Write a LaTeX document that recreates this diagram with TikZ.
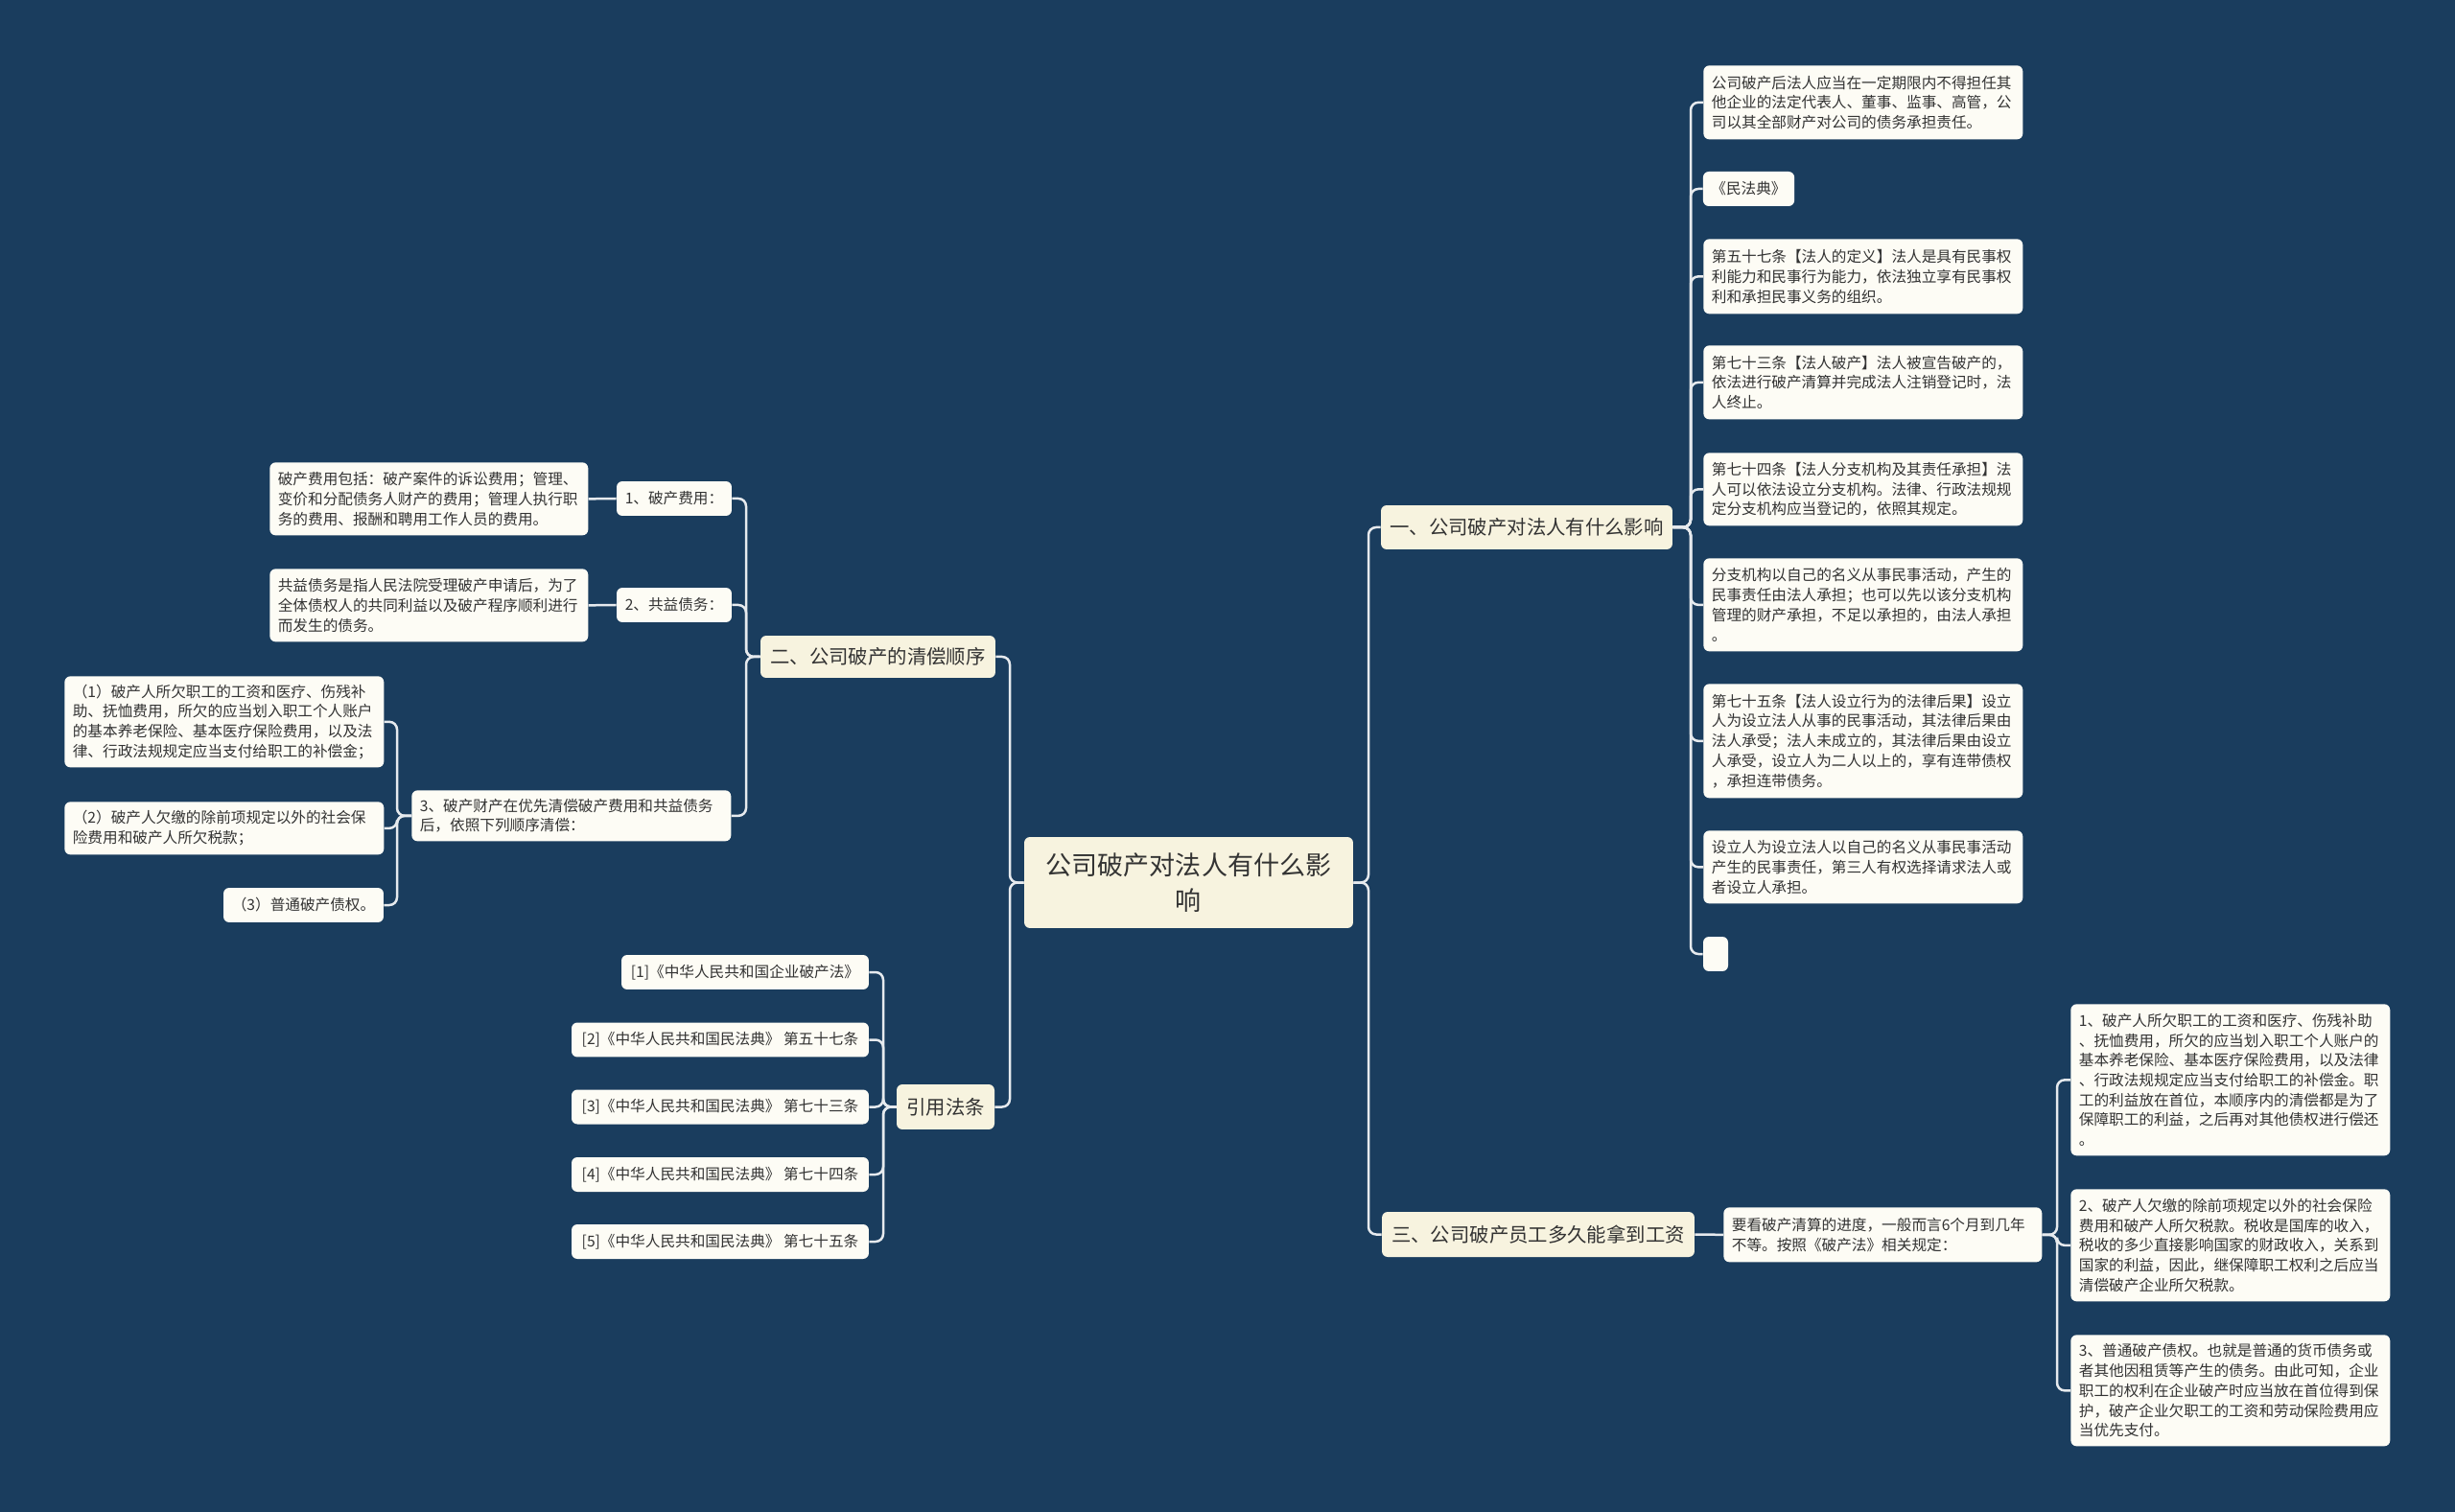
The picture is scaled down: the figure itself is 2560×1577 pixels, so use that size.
\documentclass[tikz,border=0pt]{standalone}
\usepackage{fontspec}
\newfontfamily\cjk{Noto Sans CJK SC}
\definecolor{bgc}{HTML}{1A3D5E}
\definecolor{leafc}{HTML}{FDFCF5}
\definecolor{mainc}{HTML}{F7F3DF}
\definecolor{txt}{HTML}{333333}
\definecolor{linec}{HTML}{E6EAEE}
\tikzset{
  leaf/.style={fill=leafc, rounded corners=0.12cm, inner xsep=0.17cm, inner ysep=0.06cm,
    font=\cjk\fontsize{8.9}{11.8}\selectfont, text=txt, align=left},
  multi/.style={leaf, anchor=north west, text width=6.32cm},
  single/.style={leaf, anchor=center, align=center},
  branch/.style={fill=mainc, rounded corners=0.12cm, inner sep=0.1cm, anchor=center, align=center,
    font=\cjk\fontsize{11.6}{14}\selectfont, text=txt},
  conn/.style={draw=linec, line width=0.05cm, rounded corners=0.16cm},
}
\begin{document}
\begin{tikzpicture}[x=0.02cm,y=-0.02cm]
\fill[bgc] (0,0) rectangle (2560,1577);
\useasboundingbox (0,0) rectangle (2560,1577);

% bracket x positions
\coordinate (xcR) at (1427,0);
\coordinate (xcL) at (1053,0);
\coordinate (xb1) at (1763,0);
\coordinate (xb2) at (778,0);
\coordinate (xl3) at (414,0);
\coordinate (xb4) at (921,0);
\coordinate (xk) at (2145,0);

% center
\node[branch, minimum width=6.86cm, minimum height=1.9cm, font=\cjk\fontsize{15.4}{21}\selectfont] (C) at (1239.5,920.5) {公司破产对法人有什么影\\响};

% main branches
\node[branch, minimum width=6.08cm, minimum height=0.92cm] (B1n) at (1592,550) {一、公司破产对法人有什么影响};
\node[branch, minimum width=4.9cm, minimum height=0.88cm] (B2n) at (915.5,685) {二、公司破产的清偿顺序};
\node[branch, minimum width=6.52cm, minimum height=0.94cm] (B3n) at (1604,1287.5) {三、公司破产员工多久能拿到工资};
\node[branch, minimum width=2.04cm, minimum height=0.94cm] (B4n) at (986,1154.5) {引用法条};

% right column leaves
\node[multi, minimum height=1.54cm] (R1) at (1776,68) {公司破产后法人应当在一定期限内不得担任其\\他企业的法定代表人、董事、监事、高管，公\\司以其全部财产对公司的债务承担责任。};
\node[single, minimum width=1.9cm, minimum height=0.72cm] (R2) at (1823.5,197) {《民法典》};
\node[multi, minimum height=1.56cm] (R3) at (1776,249) {第五十七条【法人的定义】法人是具有民事权\\利能力和民事行为能力，依法独立享有民事权\\利和承担民事义务的组织。};
\node[multi, minimum height=1.54cm] (R4) at (1776,360) {第七十三条【法人破产】法人被宣告破产的，\\依法进行破产清算并完成法人注销登记时，法\\人终止。};
\node[multi, minimum height=1.52cm] (R5) at (1776,472) {第七十四条【法人分支机构及其责任承担】法\\人可以依法设立分支机构。法律、行政法规规\\定分支机构应当登记的，依照其规定。};
\node[multi, minimum height=1.94cm] (R6) at (1776,582) {分支机构以自己的名义从事民事活动，产生的\\民事责任由法人承担；也可以先以该分支机构\\管理的财产承担，不足以承担的，由法人承担\\。};
\node[multi, minimum height=2.38cm] (R7) at (1776,713) {第七十五条【法人设立行为的法律后果】设立\\人为设立法人从事的民事活动，其法律后果由\\法人承受；法人未成立的，其法律后果由设立\\人承受，设立人为二人以上的，享有连带债权\\，承担连带债务。};
\node[multi, minimum height=1.52cm] (R8) at (1776,866) {设立人为设立法人以自己的名义从事民事活动\\产生的民事责任，第三人有权选择请求法人或\\者设立人承担。};
\node[single, minimum width=0.52cm, minimum height=0.72cm, inner sep=0pt] (R9) at (1789,995) {};

% branch 3
\node[multi, text width=6.3cm, minimum height=1.14cm] (K) at (1797,1259) {要看破产清算的进度，一般而言6个月到几年\\不等。按照《破产法》相关规定：};
\node[multi, minimum height=3.16cm] (K1) at (2159,1047) {1、破产人所欠职工的工资和医疗、伤残补助\\、抚恤费用，所欠的应当划入职工个人账户的\\基本养老保险、基本医疗保险费用，以及法律\\、行政法规规定应当支付给职工的补偿金。职\\工的利益放在首位，本顺序内的清偿都是为了\\保障职工的利益，之后再对其他债权进行偿还\\。};
\node[multi, minimum height=2.34cm] (K2) at (2159,1240) {2、破产人欠缴的除前项规定以外的社会保险\\费用和破产人所欠税款。税收是国库的收入，\\税收的多少直接影响国家的财政收入，关系到\\国家的利益，因此，继保障职工权利之后应当\\清偿破产企业所欠税款。};
\node[multi, minimum height=2.32cm] (K3) at (2159,1392) {3、普通破产债权。也就是普通的货币债务或\\者其他因租赁等产生的债务。由此可知，企业\\职工的权利在企业破产时应当放在首位得到保\\护，破产企业欠职工的工资和劳动保险费用应\\当优先支付。};

% left: branch 2
\node[single, minimum width=2.4cm, minimum height=0.72cm] (L1) at (703,520) {1、破产费用：};
\node[single, minimum width=2.4cm, minimum height=0.72cm] (L2) at (703,631) {2、共益债务：};
\node[multi, text width=6.3cm, minimum height=1.52cm] (L1c) at (281,482) {破产费用包括：破产案件的诉讼费用；管理、\\变价和分配债务人财产的费用；管理人执行职\\务的费用、报酬和聘用工作人员的费用。};
\node[multi, text width=6.3cm, minimum height=1.52cm] (L2c) at (281,593) {共益债务是指人民法院受理破产申请后，为了\\全体债权人的共同利益以及破产程序顺利进行\\而发生的债务。};
\node[multi, minimum height=1.06cm] (L3) at (429,824) {3、破产财产在优先清偿破产费用和共益债务\\后，依照下列顺序清偿：};
\node[multi, minimum height=1.9cm] (P1) at (67,705) {（1）破产人所欠职工的工资和医疗、伤残补\\助、抚恤费用，所欠的应当划入职工个人账户\\的基本养老保险、基本医疗保险费用，以及法\\律、行政法规规定应当支付给职工的补偿金；};
\node[multi, minimum height=1.1cm] (P2) at (67,836) {（2）破产人欠缴的除前项规定以外的社会保\\险费用和破产人所欠税款；};
\node[single, minimum width=3.34cm, minimum height=0.72cm] (P3) at (316.5,944) {（3）普通破产债权。};

% references
\node[single, minimum width=5.16cm, minimum height=0.72cm] (F1) at (777,1014) {[1]《中华人民共和国企业破产法》};
\node[single, minimum width=6.2cm, minimum height=0.72cm] (F2) at (751,1084.5) {[2]《中华人民共和国民法典》 第五十七条};
\node[single, minimum width=6.2cm, minimum height=0.72cm] (F3) at (751,1154.5) {[3]《中华人民共和国民法典》 第七十三条};
\node[single, minimum width=6.2cm, minimum height=0.72cm] (F4) at (751,1225) {[4]《中华人民共和国民法典》 第七十四条};
\node[single, minimum width=6.2cm, minimum height=0.72cm] (F5) at (751,1295) {[5]《中华人民共和国民法典》 第七十五条};

% connectors: center
\foreach \c in {B1n,B3n}
  \draw[conn] (C.east) -- (C.east -| xcR) |- (\c.west);
\foreach \c in {B2n,B4n}
  \draw[conn] (C.west) -- (C.west -| xcL) |- (\c.east);
% branch 1
\foreach \c in {R1,R2,R3,R4,R5,R6,R7,R8,R9}
  \draw[conn] (B1n.east) -- (B1n.east -| xb1) |- (\c.west);
% branch 2
\foreach \c in {L1,L2,L3}
  \draw[conn] (B2n.west) -- (B2n.west -| xb2) |- (\c.east);
\draw[conn] (L1.west) -- (L1c.east);
\draw[conn] (L2.west) -- (L2c.east);
\foreach \c in {P1,P2,P3}
  \draw[conn] (L3.west) -- (L3.west -| xl3) |- (\c.east);
% branch 3
\draw[conn] (B3n.east) -- (K.west);
\foreach \c in {K1,K2,K3}
  \draw[conn] (K.east) -- (K.east -| xk) |- (\c.west);
% references
\foreach \c in {F1,F2,F3,F4,F5}
  \draw[conn] (B4n.west) -- (B4n.west -| xb4) |- (\c.east);
\end{tikzpicture}
\end{document}
